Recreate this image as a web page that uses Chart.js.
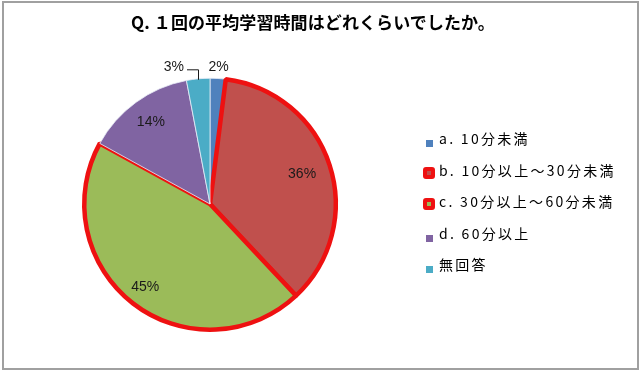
<!DOCTYPE html>
<html>
<head>
<meta charset="utf-8">
<script src="https://cdn.jsdelivr.net/npm/chart.js@4/dist/chart.umd.min.js"></script>
<style>
  html, body { margin:0; padding:0; background:#fff; }
  #wrap { position:relative; width:640px; height:371px; overflow:hidden; }
  #frame { position:absolute; left:2px; top:1px; width:633px; height:365px; border:2px solid #a0a0a0; }
  #chart { position:absolute; left:0; top:0; }
  #title { position:absolute; left:0; width:626px; top:9px; text-align:center; font-family:"Noto Sans CJK JP", sans-serif; font-weight:bold; font-size:17px; letter-spacing:0.1px; color:#000; }
  #legend { position:absolute; left:422px; top:127px; font-family:"Noto Sans CJK JP", sans-serif; font-size:14px; color:#000; letter-spacing:2.3px; }
  .item { position:relative; height:31.5px; line-height:22px; padding-left:17px; white-space:nowrap; }
  .mk { position:absolute; left:4px; top:13px; width:7px; height:7px; }
  .mk.hl { left:1px; top:8px; width:4px; height:4px; border:4.5px solid #ee1111; border-radius:3px; }
</style>
</head>
<body>
<div id="wrap">
  <div id="frame"></div>
  <canvas id="chart" width="640" height="371"></canvas>
  <div id="title"></div>
  <div id="legend"></div>
</div>
<script>
// Q. 1回の平均学習時間 — 円グラフ
const TITLE = 'Q. １回の平均学習時間はどれくらいでしたか。';
const CATEGORIES = ['a. 10分未満', 'b. 10分以上～30分未満', 'c. 30分以上～60分未満', 'd. 60分以上', '無回答'];
const VALUES = [2, 36, 45, 14, 3];   // %
const HIGHLIGHT = [false, true, true, false, false];

const COLORS = ['#4F81BD', '#C0504D', '#9BBB59', '#8064A2', '#4BACC6'];
const RED = '#EE1111';
// ラベル位置（半径比）、0 = 引き出し線
const LABEL_R = [1.09, 0.77, 0.84, 0.80, 0];

document.getElementById('title').textContent = TITLE;
document.getElementById('legend').innerHTML = CATEGORIES.map((c, i) => `
  <div class="item"><span class="mk ${HIGHLIGHT[i] ? 'hl' : ''}" style="background:${COLORS[i]}"></span>${c}</div>`).join('');

const pieLabels = {
  id: 'pieLabels',
  afterDatasetsDraw(chart) {
    const ctx = chart.ctx;
    const arcs = chart.getDatasetMeta(0).data;
    ctx.save();
    ctx.font = '14px "Liberation Sans", Arial, sans-serif';
    ctx.fillStyle = '#1a1a1a';
    ctx.textAlign = 'center';
    ctx.textBaseline = 'middle';
    arcs.forEach((a, i) => {
      const { x, y, startAngle, endAngle, outerRadius } = a.getProps(['x','y','startAngle','endAngle','outerRadius'], true);
      const mid = (startAngle + endAngle) / 2;
      const txt = VALUES[i] + '%';
      if (LABEL_R[i] > 0) {
        ctx.fillText(txt, x + Math.cos(mid) * outerRadius * LABEL_R[i], y + Math.sin(mid) * outerRadius * LABEL_R[i]);
      } else {
        // 引き出し線つき
        const ex = x + Math.cos(mid) * (outerRadius - 1);
        const ey = y + Math.sin(mid) * (outerRadius - 1);
        ctx.strokeStyle = '#1a1a1a';
        ctx.lineWidth = 1;
        ctx.beginPath();
        ctx.moveTo(Math.round(ex) + 0.5, ey);
        ctx.lineTo(Math.round(ex) + 0.5, ey - 10);
        ctx.lineTo(Math.round(ex) - 11, ey - 10);
        ctx.stroke();
        ctx.textAlign = 'right';
        ctx.fillText(txt, Math.round(ex) - 14, ey - 13);
        ctx.textAlign = 'center';
      }
    });
    ctx.restore();
  }
};

new Chart(document.getElementById('chart'), {
  type: 'pie',
  data: {
    labels: CATEGORIES,
    datasets: [{
      data: VALUES,
      backgroundColor: COLORS,
      borderColor: HIGHLIGHT.map(h => h ? RED : '#e8eef8'),
      borderWidth: HIGHLIGHT.map(h => h ? 4.5 : 0.8),
      hoverOffset: 0
    }]
  },
  options: {
    responsive: false,
    animation: false,
    layout: { padding: { left: 82, right: 302, top: 76, bottom: 39 } },
    plugins: { legend: { display: false }, tooltip: { enabled: false }, title: { display: false } }
  },
  plugins: [pieLabels]
});
</script>
</body>
</html>
